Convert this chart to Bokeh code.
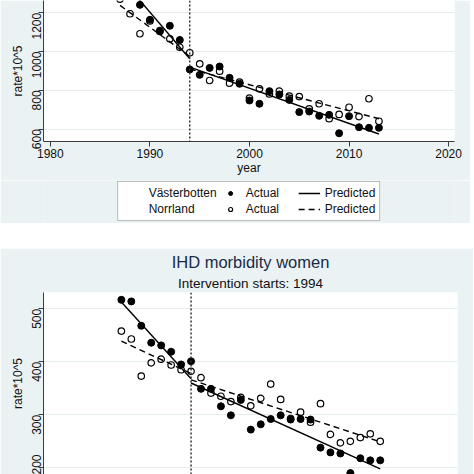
import math
from bokeh.plotting import figure
from bokeh.models import Range1d, Span, Legend, LegendItem, Title, FixedTicker, Spacer
from bokeh.layouts import column
from bokeh.embed import file_html
from bokeh.resources import INLINE

# ---------------- data ----------------
years = list(range(1987, 2014))
intervention_year = 1994

# Top panel (rate*10^5)
vb_top = [1385, 1300, 1241, 1164, 1104, 1133, 1060, 908, 880, 916, 923, 865, 834,
          748, 731, 796, 779, 751, 688, 691, 669, 674, 579, 667, 610, 607, 607]
no_top = [1270, 1195, 1092, 1158, 1108, 1066, 1023, 994, 937, 851, 899, 837, 843,
          760, 808, 782, 796, 770, 768, 705, 731, 654, 676, 713, 665, 757, 641]

pred_years_pre = [1987, 1994]
pred_years_post = [1994, 2013]
vb_top_pred_pre = [1383, 963]
vb_top_pred_post = [920, 575]
no_top_pred_pre = [1238, 975]
no_top_pred_post = [910, 654]

# Bottom panel: IHD morbidity women
vb_bot = [517, 514, 468, 436, 431, 419, 395, 401, 349, 349, 316, 299, 328,
          272, 282, 292, 299, 291, 292, 291, 238, 229, 227, 190, 218, 214, 214]
no_bot = [458, 443, 373, 398, 405, 394, 385, 382, 370, 341, 335, 325, 333,
          317, 331, 358, 329, 293, 305, 286, 321, 263, 247, 250, 257, 264, 250]
vb_bot_pred_pre = [513, 368]
vb_bot_pred_post = [360, 198]
no_bot_pred_pre = [439, 378]
no_bot_pred_post = [366, 249]

x_ticks = [1980, 1990, 2000, 2010, 2020]
top_y_ticks = [600, 800, 1000, 1200]
bot_y_ticks = [200, 300, 400, 500]

title_text = "IHD morbidity women"
subtitle_text = "Intervention starts: 1994"
y_label = "rate*10^5"
x_label = "year"
region_labels = ["Västerbotten", "Norrland"]
actual_label = "Actual"
pred_label = "Predicted"

# ---------------- style ----------------
FONT = "Liberation Sans"
BG = "#eaf2f3"
GRID = "#e4ecef"
AXIS = "#3c3c3c"
FILLED = dict(size=7, marker="circle", fill_color="black", line_color="black")
HOLLOW = dict(size=6.5, marker="circle", fill_color=None, line_color="black", line_width=1.2)
SOLID = dict(line_color="black", line_width=1.4)
DASHED = dict(line_color="black", line_width=1.4, line_dash="6 4")


def style(p):
    p.background_fill_color = "white"
    p.border_fill_color = BG
    p.outline_line_color = None
    p.xgrid.visible = False
    p.ygrid.grid_line_color = GRID
    p.ygrid.grid_line_width = 1
    for ax in p.yaxis:
        ax.major_label_orientation = math.pi / 2
        ax.axis_label = y_label
        ax.axis_label_text_font = FONT
        ax.axis_label_text_font_size = "12px"
        ax.axis_label_text_font_style = "normal"
        ax.axis_label_text_color = "#111111"
        ax.axis_label_standoff = 0
        ax.major_label_standoff = 2
    for ax in list(p.xaxis) + list(p.yaxis):
        ax.axis_line_color = AXIS
        ax.major_tick_line_color = AXIS
        ax.major_tick_out = 5
        ax.major_tick_in = 0
        ax.minor_tick_line_color = None
        ax.major_label_text_font = FONT
        ax.major_label_text_font_size = "12px"
        ax.major_label_text_color = "#111111"


def draw(p, vb, no, vb_pre, vb_post, no_pre, no_post):
    span = Span(location=intervention_year, dimension="height", line_color="#333333",
                line_dash="2 2", line_width=1.5)
    p.add_layout(span)
    p.scatter(years, vb, **FILLED)
    p.scatter(years, no, **HOLLOW)
    p.line(pred_years_pre, vb_pre, **SOLID)
    p.line(pred_years_post, vb_post, **SOLID)
    p.line(pred_years_pre, no_pre, **DASHED)
    p.line(pred_years_post, no_post, **DASHED)


# ---------------- top panel ----------------
p1 = figure(width=470, height=180,
            x_range=Range1d(1979.31, 2020.59), y_range=Range1d(536.5, 1263.4),
            output_backend="svg", toolbar_location=None,
            min_border_left=43, min_border_right=8, min_border_top=0, min_border_bottom=39)
p1.xaxis.ticker = FixedTicker(ticks=x_ticks)
p1.yaxis.ticker = FixedTicker(ticks=top_y_ticks)
p1.ygrid.ticker = FixedTicker(ticks=top_y_ticks)
style(p1)
p1.xaxis.axis_label = x_label
p1.xaxis.axis_label_text_font = FONT
p1.xaxis.axis_label_text_font_size = "12px"
p1.xaxis.axis_label_text_font_style = "normal"
p1.xaxis.axis_label_text_color = "#111111"
p1.xaxis.axis_label_standoff = 0
p1.xaxis.major_label_standoff = 2
draw(p1, vb_top, no_top, vb_top_pred_pre, vb_top_pred_post, no_top_pred_pre, no_top_pred_post)

# ---------------- legend strip (part of top panel) ----------------
# The strip's own range (0..1) lies far from the data, so these proxy
# renderers stay out of view and only supply the legend's glyphs.
pl = figure(width=470, height=43, x_range=Range1d(0, 1), y_range=Range1d(0, 1),
            output_backend="svg", toolbar_location=None,
            min_border_left=35, min_border_right=16, min_border_top=0, min_border_bottom=0)
pl.axis.visible = False
pl.grid.visible = False
pl.background_fill_color = BG
pl.border_fill_color = BG
pl.outline_line_color = None
d1 = pl.line(years, vb_top, line_alpha=0)
d2 = pl.line(years, no_top, line_alpha=0)
g_vb = pl.scatter(years, vb_top, **FILLED)
g_no = pl.scatter(years, no_top, **HOLLOW)
g_sl = pl.line(pred_years_pre, vb_top_pred_pre, **SOLID)
g_dl = pl.line(pred_years_pre, no_top_pred_pre, **DASHED)
legend = Legend(items=[
    LegendItem(label=region_labels[0], renderers=[d1]),
    LegendItem(label=actual_label, renderers=[g_vb]),
    LegendItem(label=pred_label, renderers=[g_sl]),
    LegendItem(label=region_labels[1], renderers=[d2]),
    LegendItem(label=actual_label, renderers=[g_no]),
    LegendItem(label=pred_label, renderers=[g_dl]),
], orientation="horizontal", ncols=3, location="top_center",
    glyph_width=22, glyph_height=10, label_height=14, label_width=50, label_standoff=5,
    spacing=2, padding=4, margin=1,
    label_text_font=FONT, label_text_font_size="12px", label_text_color="#111111",
    border_line_color="#777777", border_line_width=1,
    background_fill_color="white", background_fill_alpha=1)
pl.add_layout(legend)

# ---------------- bottom panel ----------------
p2 = figure(width=473, height=226,
            x_range=Range1d(1979.18, 2020.76), y_range=Range1d(187.3, 530.8),
            output_backend="svg", toolbar_location=None, x_axis_location=None,
            min_border_left=43, min_border_right=8, min_border_top=44, min_border_bottom=0)
p2.yaxis.ticker = FixedTicker(ticks=bot_y_ticks)
p2.ygrid.ticker = FixedTicker(ticks=bot_y_ticks)
style(p2)
p2.title.text = title_text
p2.title.align = "center"
p2.title.text_font = FONT
p2.title.text_font_size = "16.5px"
p2.title.text_font_style = "normal"
p2.title.text_color = "#1b2a47"
p2.title.standoff = 2
p2.add_layout(Title(text=subtitle_text, align="center", text_font=FONT,
                    text_font_size="13.5px", text_font_style="normal",
                    text_color="#111111", standoff=4), "above")
draw(p2, vb_bot, no_bot, vb_bot_pred_pre, vb_bot_pred_post, no_bot_pred_pre, no_bot_pred_post)

layout = column(p1, pl, Spacer(height=25, width=470), p2, spacing=0)
open("out.html", "w").write(file_html(layout, INLINE))
